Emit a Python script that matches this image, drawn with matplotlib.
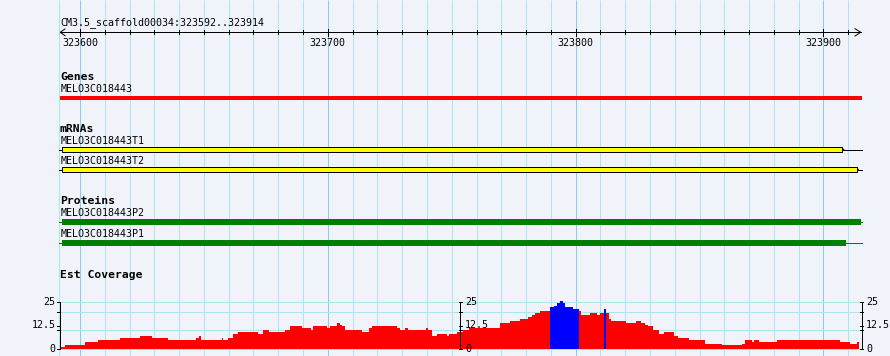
# GBrowse style view: genes / mRNAs / proteins / EST coverage

import matplotlib
matplotlib.use("Agg")
import matplotlib.pyplot as plt

# region shown
ref_name = "CM3.5_scaffold00034"
view_start = 323592
view_end = 323914
ruler_labels = [323600, 323700, 323800, 323900]

# features
gene_names = ["MELO3C018443"]
gene_start = [323500.0]
gene_end = [323915.6]

mrna_names = ["MELO3C018443T1", "MELO3C018443T2"]
mrna_start = [323592.7, 323592.7]
mrna_end = [323907.6, 323913.5]

prot_names = ["MELO3C018443P2", "MELO3C018443P1"]
prot_start = [323592.7, 323592.7]
prot_end = [323915.1, 323909.1]

# est coverage (step edges in bp, value per step)
cov_edges = [323592.0, 323594.0, 323602.0, 323607.4, 323616.1, 323624.2, 323628.9,
             323635.6, 323646.8, 323648.0, 323648.8, 323657.2, 323657.8, 323659.9,
             323661.9, 323663.9, 323672.0, 323674.0, 323676.4, 323682.8, 323684.8,
             323689.5, 323693.1, 323693.9, 323699.6, 323700.9, 323703.6, 323705.0,
             323705.6, 323707.0, 323713.7, 323716.7, 323718.0, 323727.8, 323729.2,
             323731.2, 323732.5, 323739.7, 323740.6, 323742.0, 323744.0, 323748.0,
             323748.7, 323752.1, 323754.7, 323756.8, 323769.3, 323773.6, 323777.6,
             323780.6, 323782.4, 323783.7, 323785.7, 323789.5, 323791.1, 323792.4,
             323793.5, 323794.9, 323795.8, 323799.1, 323801.4, 323802.2, 323805.9,
             323808.6, 323809.9, 323811.5, 323812.2, 323813.3, 323814.2, 323820.4,
             323824.4, 323826.4, 323828.1, 323829.4, 323831.4, 323833.5, 323835.5,
             323839.5, 323841.5, 323845.6, 323852.3, 323859.1, 323867.1, 323868.5,
             323871.2, 323872.1, 323873.8, 323881.3, 323906.8, 323910.9, 323913.6,
             323914.2]
cov_values = [1, 2, 4, 5, 6, 7, 6, 5, 6, 7, 5, 6, 5, 6, 8, 9, 8, 10, 9, 10,
              12, 11, 10, 12, 11, 12, 14, 13, 12, 10, 9, 11, 12, 11, 10, 11, 10, 11, 10, 7,
              8, 7, 8, 9, 10, 11, 14, 15, 16, 17, 18, 19, 20, 22, 23, 24.5, 25.5, 24.5, 22, 21,
              20, 18, 19, 18, 19, 21, 19, 16, 15, 14, 15, 14, 13, 12, 10, 8, 9, 7, 6, 5,
              3, 2, 3, 5, 4, 5, 4, 5, 4, 3, 4]
blue_regions = [(323789.5, 323801.4), (323811.5, 323812.2)]
cov_max = 25
cov_ticks = [0, 12.5, 25]
cov_minor = [10.1, 19.75]

# layout (pixel rows, bp columns)
W, H = 890, 356
px_per_bp = 2.478
left_px = 60.2
x_lo = view_start - left_px / px_per_bp
x_hi = view_start + (W - left_px) / px_per_bp


def bp_at(p):
    return x_lo + p / px_per_bp


panel_end = bp_at(862)
bg = "#f0f4fa"
grid_minor = "#abe6ef"
grid_major = "#86cdea"
px = 0.72  # one pixel in points

plt.rcParams["font.family"] = "DejaVu Sans Mono"
small = 7.2
bold = 8.2

fig = plt.figure(figsize=(W / 100, H / 100), dpi=100, facecolor=bg)
ax = fig.add_axes([0, 0, 1, 1])
ax.set_xlim(x_lo, x_hi)
ax.set_ylim(H, 0)
ax.axis("off")

# vertical grid
grid_pos = list(range(323600, view_end + 1, 10))
ax.vlines([view_start - 0.35], 0, H, color=grid_minor, lw=px, zorder=0)
for g in grid_pos:
    c = grid_major if g % 100 == 0 else grid_minor
    ax.vlines(g, 0, H, color=c, lw=px, zorder=0)

# ruler
ax.text(view_start, 25.3, f"{ref_name}:{view_start}..{view_end}", fontsize=small,
        va="baseline", ha="left")
ax.plot([view_start, bp_at(860.7)], [32.3, 32.3], color="black", lw=px)
ax.plot([bp_at(65), view_start, bp_at(65)], [29, 32.3, 35.7], color="black", lw=px)
ax.plot([bp_at(855), bp_at(860.7), bp_at(855)], [28.7, 32.3, 36], color="black", lw=px)
for g in grid_pos:
    if g % 100 == 0:
        ax.plot([g, g], [28.5, 36], color="black", lw=px)
    else:
        ax.plot([g, g], [30.3, 34.3], color="black", lw=px)
for t in ruler_labels:
    ax.text(t, 46.3, str(t), fontsize=small, ha="center", va="baseline")


def track_title(y, s):
    ax.text(view_start - 0.1, y, s, fontsize=bold, fontweight="bold",
            va="baseline", ha="left")


def label(y, s):
    ax.text(view_start, y, s, fontsize=small, va="baseline", ha="left")


# genes
track_title(80, "Genes")
for i, name in enumerate(gene_names):
    label(92.3, name)
    s = max(gene_start[i], view_start - 0.1)
    e = min(gene_end[i], panel_end)
    ax.barh(97.9, e - s, left=s, height=4.6, color="#ff0000", lw=0, zorder=3)

# mRNAs
track_title(131.7, "mRNAs")
mrna_rows = [(144.3, 149.5), (164.3, 169.5)]
for i, name in enumerate(mrna_names):
    ly, cy = mrna_rows[i]
    label(ly, name)
    ax.plot([bp_at(59), panel_end], [cy, cy], color="black", lw=px, zorder=2)
    tip = mrna_end[i] + 0.75
    ax.fill([mrna_end[i] - 0.5, tip, mrna_end[i] - 0.5], [cy - 1.6, cy, cy + 1.6],
            color="#ffff00", ec="black", lw=px * 0.8, zorder=3)
    ax.barh(cy, mrna_end[i] - mrna_start[i], left=mrna_start[i], height=4.1,
            color="#ffff00", edgecolor="black", lw=px, zorder=4)

# proteins
track_title(204, "Proteins")
prot_rows = [(216, 221.9), (237.3, 242.7)]
for i, name in enumerate(prot_names):
    ly, cy = prot_rows[i]
    label(ly, name)
    ax.plot([bp_at(59), panel_end], [cy, cy], color="#008000", lw=px, zorder=2)
    ax.barh(cy, prot_end[i] - prot_start[i], left=prot_start[i], height=5.8,
            color="#008000", lw=0, zorder=3)

# est coverage
track_title(278.3, "Est Coverage")
y0, y25 = 349.3, 301.7
cov = fig.add_axes([0, (H - y0) / H, 1, (y0 - y25) / H])
cov.set_xlim(x_lo, x_hi)
cov.set_ylim(0, cov_max)
cov.axis("off")
cov.patch.set_visible(False)

cov.hlines([0] + cov_minor + [cov_max], view_start - 0.3, panel_end,
           color=grid_minor, lw=px, zorder=0, clip_on=False)

lefts = cov_edges[:-1]
widths = [b - a for a, b in zip(cov_edges[:-1], cov_edges[1:])]
colors = []
for a in lefts:
    blue = any(lo <= a < hi for lo, hi in blue_regions)
    colors.append("#0000ff" if blue else "#ff0000")
cov.bar(lefts, cov_values, width=widths, align="edge", color=colors, lw=0,
        zorder=2, clip_on=False)

axis_x = [view_start - 0.1, (view_start + view_end + 1) / 2, panel_end - 0.2]
for k, xa in enumerate(axis_x):
    cov.plot([xa, xa], [0, cov_max], color="black", lw=px, zorder=3, clip_on=False)
    if k == 0:
        tx = [xa - 1.0, xa]
    else:
        tx = [xa - 0.6, xa + 0.6]
    for v in cov_ticks + cov_minor:
        cov.plot(tx, [v, v], color="black", lw=px, zorder=3, clip_on=False)
    for v in cov_ticks:
        txt = "12.5" if v == 12.5 else str(int(v))
        if k == 0:
            cov.annotate(txt, (xa, v), xytext=(-4.5, 0), textcoords="offset pixels",
                         fontsize=small, ha="right", va="center", zorder=4)
        else:
            cov.annotate(txt, (xa, v), xytext=(4.5, 0), textcoords="offset pixels",
                         fontsize=small, ha="left", va="center", zorder=4)

fig.savefig("out.png", dpi=100, facecolor=bg)
